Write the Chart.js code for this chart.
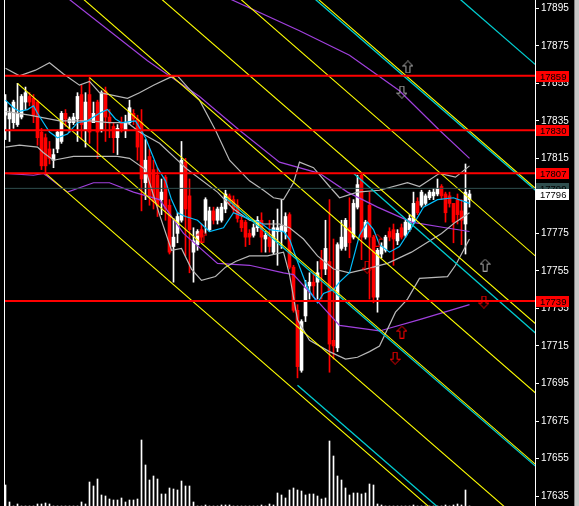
<!DOCTYPE html>
<html>
<head>
<meta charset="utf-8">
<script src="https://cdn.jsdelivr.net/npm/chart.js@4.4.1/dist/chart.umd.min.js"></script>
<style>
  html, body { margin: 0; padding: 0; background: #000; }
  #chart { display: block; }
</style>
</head>
<body>
<canvas id="chart" width="579" height="506"></canvas>
<script>
// OHLC bars (oldest first)
const opens = [17838,17836,17834,17833,17837,17845,17848,17847,17845,17829,
  17826,17820,17814,17820,17824,17839,17834,17834,17836,17849,
  17830,17849,17834,17845,17830,17851,17837,17832,17826,17834,
  17830,17834,17839,17836,17834,17802,17816,17809,17806,17793,
  17805,17790,17768,17775,17782,17813,17795,17765,17769,17777,
  17782,17777,17787,17782,17782,17788,17795,17793,17790,17782,
  17781,17775,17774,17778,17782,17772,17773,17765,17776,17776,
  17776,17785,17757,17734,17702,17731,17747,17749,17749,17761,
  17756,17760,17718,17714,17767,17768,17778,17773,17789,17806,
  17773,17790,17773,17741,17764,17766,17776,17777,17771,17778,
  17774,17777,17781,17792,17790,17791,17794,17795,17796,17800,
  17796,17795,17791,17793,17787,17780,17793];
const highs = [17849,17842,17846,17855,17849,17853,17850,17849,17846,17831,
  17828,17824,17820,17830,17840,17841,17837,17839,17850,17854,
  17850,17858,17845,17846,17851,17853,17841,17834,17833,17837,
  17838,17846,17841,17838,17841,17825,17820,17814,17810,17804,
  17806,17793,17783,17786,17824,17815,17804,17778,17777,17780,
  17794,17789,17789,17789,17791,17798,17796,17795,17793,17784,
  17782,17777,17780,17784,17786,17776,17782,17782,17788,17793,
  17786,17786,17758,17737,17729,17750,17754,17754,17760,17766,
  17782,17793,17772,17770,17782,17783,17794,17793,17806,17807,
  17782,17797,17774,17767,17770,17774,17778,17780,17777,17780,
  17782,17785,17797,17794,17798,17796,17798,17799,17804,17801,
  17797,17797,17791,17796,17793,17812,17798];
const lows = [17825,17824,17831,17832,17836,17841,17843,17834,17822,17809,
  17806,17812,17810,17818,17823,17832,17829,17833,17824,17825,
  17821,17823,17834,17815,17829,17824,17826,17818,17817,17829,
  17826,17833,17833,17814,17787,17793,17790,17788,17784,17785,
  17782,17764,17749,17770,17781,17763,17754,17749,17766,17770,
  17775,17776,17780,17780,17781,17786,17790,17786,17781,17776,
  17768,17769,17773,17776,17765,17765,17765,17764,17758,17767,
  17772,17756,17733,17698,17701,17728,17740,17741,17740,17740,
  17753,17701,17708,17712,17766,17766,17762,17772,17788,17761,
  17772,17740,17738,17733,17762,17765,17771,17758,17769,17772,
  17773,17776,17780,17785,17789,17790,17793,17793,17795,17793,
  17781,17789,17770,17780,17769,17764,17789];
const closes = [17845,17839,17845,17839,17848,17850,17845,17838,17826,17811,
  17811,17815,17817,17829,17839,17836,17836,17837,17848,17833,
  17845,17829,17839,17829,17850,17837,17834,17826,17831,17831,
  17834,17842,17836,17821,17804,17814,17795,17792,17790,17797,
  17788,17765,17773,17784,17814,17788,17777,17771,17776,17773,
  17793,17787,17782,17788,17789,17796,17791,17788,17783,17778,
  17773,17773,17778,17782,17773,17774,17768,17778,17778,17779,
  17784,17757,17734,17704,17728,17746,17749,17747,17754,17756,
  17767,17716,17715,17769,17773,17782,17770,17791,17801,17773,
  17781,17773,17741,17766,17768,17773,17773,17772,17775,17773,
  17781,17783,17791,17786,17797,17795,17797,17797,17799,17795,
  17786,17791,17781,17785,17782,17797,17796];
const volumes = [21,4,0,2,0,0,0,0,2,2,
  3,2,0,0,0,0,0,0,0,4,
  2,24,20,27,11,10,7,6,6,8,
  4,6,6,7,66,41,26,30,27,12,
  12,18,17,16,25,20,20,4,0,0,
  1,0,0,0,1,1,1,0,0,0,
  0,0,0,0,1,0,2,1,13,11,
  8,16,18,16,15,11,12,12,10,7,
  8,65,50,30,26,18,11,13,13,12,
  13,22,21,2,1,0,0,0,0,0,
  0,0,1,0,0,0,0,0,0,0,
  1,0,1,2,1,16,0];

// price axis
const priceTicks = [17895,17875,17855,17835,17815,17795,17775,17755,17735,17715,17695,17675,17655,17635];
const priceMin = 17629.7;
const priceMax = 17899.4;

// horizontal levels
const redLevels = [17859, 17830, 17807, 17739];
const greyLevel = 17799;
const bidPrice = 17796;

// indicator knots [bar index, price]
const maFast = [[0,17846],[2,17842],[3.5,17840],[5.5,17841],[7,17843],[8,17839],[9.5,17834],[11,17829],
  [13,17826],[15.5,17828],[18,17834],[20.5,17835],[23.5,17839],[25.5,17841],[27.5,17836],[29,17834],
  [32.5,17835],[35,17826],[36.5,17818],[38,17810],[40,17803],[41.5,17793],[43,17786],[45,17784],
  [48,17782],[51,17776],[54.5,17778],[57,17786],[60.5,17783],[63.5,17781],[66,17777],[69.5,17776],
  [71,17772],[73,17760],[75.5,17746],[78,17738],[79.5,17743],[82,17745],[83.5,17749],[86,17754],
  [88.5,17774],[90.5,17781],[92,17777],[93.5,17769],[96,17765],[98.5,17768],[101.5,17778],
  [104.5,17789],[108,17793],[112,17794],[116,17791]];
const bbUpper = [[0,17863],[3.5,17859],[7.5,17862],[11,17866],[14.5,17860],[18.5,17854],[21,17856],
  [23.5,17850],[26,17849],[30.5,17847],[33.5,17850],[37,17854],[41,17858],[43,17859],[45.5,17853],
  [48.5,17846],[52.5,17830],[56,17814],[61,17803],[64.5,17798],[67,17794],[69.5,17793],[72,17802],
  [73.5,17813],[77,17810],[81,17800],[83.5,17794],[88,17797],[93.5,17798],[100.5,17802],
  [103.5,17800],[108.5,17807],[112.5,17805],[116,17811]];
const bbMiddle = [[0,17840],[6,17838],[13.5,17835],[21,17835],[26,17834],[30.5,17834],[33.5,17829],
  [38.5,17823],[45.5,17809],[53,17797],[57,17788],[61,17782],[64.5,17780],[68.5,17780],[71,17778],
  [74.5,17772],[78,17763],[82,17756],[86,17754],[90,17756],[95.5,17759],[101.5,17765],[109,17775],
  [112.5,17781],[116,17786]];
const bbLower = [[0,17821],[3.5,17822],[8,17821],[9.5,17818],[12,17814],[17,17816],[28,17816],
  [31,17815],[35,17809],[38.5,17785],[41.5,17766],[44,17767],[46.5,17756],[49,17750],[52.5,17752],
  [55,17757],[57.5,17760],[61,17763],[65.5,17763],[69.5,17765],[71,17753],[73,17729],[76,17718],
  [81,17712],[85,17708],[88,17709],[91,17712],[93.5,17715],[97.5,17733],[100.5,17740],[103.5,17751],
  [110.5,17752],[112.5,17758],[116,17772]];
const envUpper = [[53,17903],[73.5,17883],[86,17870],[98.5,17851],[108.5,17830],[116,17815]];
const envMiddle = [[14,17903],[35.5,17867],[48.5,17848],[58.5,17830],[68.5,17813],[78.5,17807],
  [85.5,17797],[93,17789],[101.5,17781],[110,17778],[116,17776]];
const envLower = [[0,17807],[7,17806],[9.5,17807],[15.5,17797],[22,17802],[26,17802],[32,17797],
  [38.5,17793],[44.5,17775],[53,17759],[61,17758],[69.5,17754],[72,17753],[83.5,17726],[93.5,17723],
  [103.5,17729],[116,17737]];

// channel lines [from index, from price, to index, to price]
const yellowLines = [[21,17858,133,17651],[3,17855,133,17614],[10,17807,133,17579],
  [0,17936,133,17689],[0,17972,133,17726],[0,18009,133,17762],[0,18045,133,17798]];
const cyanLines = [[55,17794,133,17650],[73,17694,133,17583],[87,17807,133,17721],
  [0,18043,133,17797],[0,18110,133,17864]];

// arrow marks [index, price]
const greyUp = [[100.6,17863.7],[119.9,17758.1]];
const greyDown = [[99.1,17850.3]];
const redUp = [[99.1,17722.4],[92.9,17771.4],[49.1,17773.6]];
const redDown = [[119.6,17738.4],[97.4,17708.5],[90.4,17757.0]];

// ---- build datasets ----
const bars = opens.map((o, i) => ({ open: o, high: highs[i], low: lows[i], close: closes[i], bull: closes[i] >= o }));
const pts = arr => arr.map(([x, y]) => ({ x, y }));

function arrowImage(color, up) {
  const c = document.createElement('canvas');
  c.width = 11; c.height = 13;
  const g = c.getContext('2d');
  g.strokeStyle = color;
  g.lineWidth = 1;
  const shape = [[5.5,0.5],[10.5,5.5],[7.5,5.5],[7.5,12.5],[3.5,12.5],[3.5,5.5],[0.5,5.5]];
  g.beginPath();
  shape.forEach(([px, py], k) => {
    const yy = up ? py : 13 - py;
    if (k) g.lineTo(px, yy); else g.moveTo(px, yy);
  });
  g.closePath();
  g.stroke();
  return c;
}

function lineSet(data, color, width, order) {
  return { type: 'line', data, borderColor: color, borderWidth: width, pointRadius: 0,
    tension: 0, fill: false, order, yAxisID: 'y' };
}

function arrowSet(list, img) {
  return { type: 'scatter', data: pts(list), pointStyle: img, pointRadius: 6, order: 1, yAxisID: 'y' };
}

const datasets = [];

// volume
datasets.push({
  type: 'bar', data: volumes.map((v, i) => ({ x: i, y: v })), yAxisID: 'yv',
  backgroundColor: '#ffffff', barThickness: 1, grouped: false, order: 20
});
// wicks
datasets.push({
  type: 'bar', data: bars.map((b, i) => ({ x: i, y: [b.low, b.high] })), yAxisID: 'y',
  backgroundColor: bars.map(b => b.bull ? '#ffffff' : '#ff0000'),
  barThickness: 1, grouped: false, order: 12
});
// bodies
datasets.push({
  type: 'bar', data: bars.map((b, i) => ({ x: i, y: [b.open, b.close] })), yAxisID: 'y',
  backgroundColor: bars.map(b => b.bull ? '#ffffff' : '#ff0000'),
  barThickness: 3, minBarLength: 1, grouped: false, order: 11
});

// bands and average
datasets.push(lineSet(pts(bbUpper), '#b8b8b8', 1.2, 8));
datasets.push(lineSet(pts(bbMiddle), '#b8b8b8', 1.2, 8));
datasets.push(lineSet(pts(bbLower), '#b8b8b8', 1.2, 8));
datasets.push(lineSet(pts(envUpper), '#a040dd', 1.2, 8));
datasets.push(lineSet(pts(envMiddle), '#a040dd', 1.2, 8));
datasets.push(lineSet(pts(envLower), '#a040dd', 1.2, 8));
datasets.push(lineSet(pts(maFast), '#00bfff', 1.2, 7));

// channels
yellowLines.forEach(([a, pa, b, pb]) => datasets.push(lineSet([{ x: a, y: pa }, { x: b, y: pb }], '#ffff00', 1.1, 5)));
cyanLines.forEach(([a, pa, b, pb]) => datasets.push(lineSet([{ x: a, y: pa }, { x: b, y: pb }], '#00ced1', 1.3, 6)));

// horizontal levels
redLevels.forEach(p => datasets.push(lineSet([{ x: -1, y: p }, { x: 140, y: p }], '#ff0000', 2, 4)));
datasets.push(lineSet([{ x: -1, y: greyLevel }, { x: 140, y: greyLevel }], '#2f4f4f', 1, 4));

// arrows
datasets.push(arrowSet(greyUp, arrowImage('#a9a9a9', true)));
datasets.push(arrowSet(greyDown, arrowImage('#a9a9a9', false)));
datasets.push(arrowSet(redUp, arrowImage('#ff0000', true)));
datasets.push(arrowSet(redDown, arrowImage('#ff0000', false)));

const labelFont = '9.5px "Liberation Sans"';

// background, frame and price tags
const frame = {
  id: 'frame',
  beforeDraw(chart) {
    const ctx = chart.ctx;
    ctx.save();
    ctx.fillStyle = '#000';
    ctx.fillRect(0, 0, chart.width, chart.height);
    ctx.restore();
  },
  afterDraw(chart) {
    const { ctx, chartArea } = chart;
    const y = chart.scales.y;
    ctx.save();
    ctx.fillStyle = '#ffffff';
    ctx.fillRect(4, 0, 1, chart.height);
    ctx.fillStyle = '#808080';
    ctx.fillRect(574, 0, 1, chart.height);
    ctx.fillStyle = '#c8c8c8';
    ctx.fillRect(575, 0, 4, chart.height);

    const tag = (price, bg, fg) => {
      const py = Math.round(y.getPixelForValue(price));
      ctx.fillStyle = bg;
      ctx.fillRect(chartArea.right + 1, py - 5, 33, 11);
      ctx.fillStyle = fg;
      ctx.font = labelFont;
      ctx.textBaseline = 'middle';
      ctx.fillText(String(price), chartArea.right + 5, py + 1);
    };
    redLevels.forEach(p => tag(p, '#ff0000', '#000000'));
    tag(greyLevel, '#2f4f4f', '#000000');
    tag(bidPrice, '#ffffff', '#000000');
    ctx.restore();
  }
};

new Chart(document.getElementById('chart'), {
  type: 'bar',
  data: { datasets },
  options: {
    responsive: false,
    animation: false,
    events: [],
    layout: { autoPadding: false, padding: { left: 4, right: 0, top: 0, bottom: 0 } },
    plugins: { legend: { display: false }, tooltip: { enabled: false } },
    scales: {
      x: { type: 'linear', min: -0.375, max: 132.375, offset: false, display: false },
      y: {
        position: 'right',
        min: priceMin,
        max: priceMax,
        afterBuildTicks: s => { s.ticks = priceTicks.map(v => ({ value: v })); },
        afterFit: s => { s.width = 44; s.paddingTop = 0; s.paddingBottom = 0; },
        grid: { drawOnChartArea: false, color: '#ffffff', tickLength: 4 },
        border: { display: true, color: '#ffffff', width: 1 },
        ticks: {
          color: '#ffffff', autoSkip: false, padding: 2,
          font: { family: 'Liberation Sans', size: 10 },
          callback: v => String(v)
        }
      },
      yv: { type: 'linear', min: 0, max: 506, display: false }
    }
  },
  plugins: [frame]
});
</script>
</body>
</html>
